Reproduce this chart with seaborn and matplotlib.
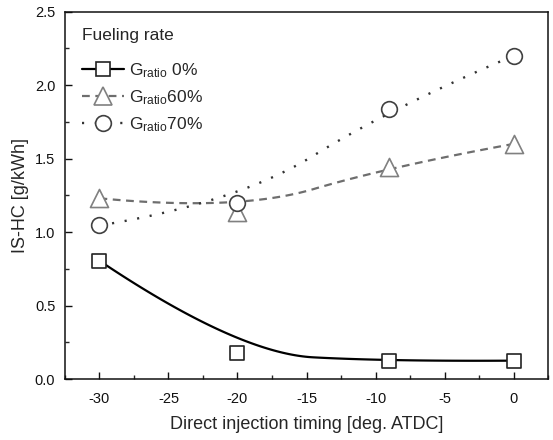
import numpy as np
import pandas as pd
import matplotlib
matplotlib.use("Agg")
from matplotlib import pyplot as plt
from matplotlib.lines import Line2D
from matplotlib.ticker import MultipleLocator
import seaborn as sns

# Data
timing = [-30, -20, -9, 0]
hc_g0 = [0.805, 0.175, 0.12, 0.125]
hc_g60 = [1.23, 1.14, 1.445, 1.60]
hc_g70 = [1.045, 1.20, 1.84, 2.20]
labels = [r"G$_{\rm ratio}$ 0%", r"G$_{\rm ratio}$60%", r"G$_{\rm ratio}$70%"]


def bspline2(xs, ys, n=60):
    # clamped quadratic B-spline using the data points as control points
    p = np.column_stack([xs, ys]).astype(float)
    m = (p[1:-1][:-1] + p[1:-1][1:]) / 2  # midpoints between inner points
    starts = np.vstack([p[:1], m])
    ends = np.vstack([m, p[-1:]])
    ctrl = p[1:-1]
    out = []
    for k in range(len(ctrl)):
        t = np.linspace(0, 1, n)[:, None]
        seg = (1 - t) ** 2 * starts[k] + 2 * t * (1 - t) * ctrl[k] + t ** 2 * ends[k]
        out.append(seg if k == 0 else seg[1:])
    out = np.vstack(out)
    return out[:, 0], out[:, 1]


sns.set_theme(style="ticks")
plt.rcParams["font.family"] = ["Liberation Sans", "DejaVu Sans"]
plt.rcParams["mathtext.fontset"] = "custom"
plt.rcParams["mathtext.rm"] = "Liberation Sans"
plt.rcParams["mathtext.it"] = "Liberation Sans:italic"
plt.rcParams["mathtext.bf"] = "Liberation Sans:bold"
plt.rcParams["axes.unicode_minus"] = False

fig = plt.figure(figsize=(5.53, 4.4), dpi=100)
ax = fig.add_axes([0.1175, 0.1386, 0.8735, 0.8348])

series = [
    (hc_g0, "s", "#000000", "#222222", "-", 9.6, 1.6),
    (hc_g60, "^", "#6e6e6e", "#808080", (0, (3.5, 2.5)), 13, 1.6),
    (hc_g70, "o", "#333333", "#404040", (0, (0.9, 4.5)), 11.3, 1.7),
]

handles = []
for (vals, mk, lc, mc, ls, ms, lw), lab in zip(series, labels):
    cx, cy = bspline2(timing, vals)
    curve = pd.DataFrame({"x": cx, "y": cy})
    sns.lineplot(data=curve, x="x", y="y", ax=ax, color=lc, linestyle=ls,
                 linewidth=lw, sort=False, estimator=None, zorder=2)
    pts = pd.DataFrame({"x": timing, "y": vals})
    sns.scatterplot(data=pts, x="x", y="y", ax=ax, marker=mk, s=ms ** 2,
                    facecolor="white", edgecolor=mc, linewidth=1.2, zorder=3)
    handles.append(Line2D([], [], color=lc, linestyle=ls, linewidth=lw,
                          marker=mk, markersize=ms, markerfacecolor="white",
                          markeredgecolor=mc, markeredgewidth=1.2))

ax.set_xlim(-32.5, 2.5)
ax.set_ylim(0, 2.5)
ax.xaxis.set_major_locator(MultipleLocator(5))
ax.xaxis.set_minor_locator(MultipleLocator(2.5))
ax.yaxis.set_major_locator(MultipleLocator(0.5))
ax.yaxis.set_minor_locator(MultipleLocator(0.25))
ax.yaxis.set_major_formatter(matplotlib.ticker.FormatStrFormatter("%.1f"))
ax.tick_params(which="major", direction="in", length=5, width=1, labelsize=10.5,
               colors="#111111")
ax.tick_params(which="minor", direction="in", length=3, width=1)
ax.tick_params(axis="x", which="major", pad=9.3)
ax.tick_params(axis="y", which="major", pad=7)
for sp in ax.spines.values():
    sp.set_linewidth(1.1)
    sp.set_color("#111111")

ax.set_xlabel("Direct injection timing [deg. ATDC]", fontsize=13, labelpad=7)
ax.set_ylabel("IS-HC [g/kWh]", fontsize=13, labelpad=4.5)

leg = ax.legend(handles, labels, title="Fueling rate", loc="upper left",
                bbox_to_anchor=(0.017, 0.978), frameon=False, fontsize=12.5,
                title_fontsize=12.5, handlelength=2.4, handletextpad=0.3,
                labelspacing=0.48, borderpad=0.5, borderaxespad=0,
                alignment="left")
# more room between the title and the first entry, as in the original
leg._legend_box.sep = 12.5

fig.savefig("out.png", dpi=100)
